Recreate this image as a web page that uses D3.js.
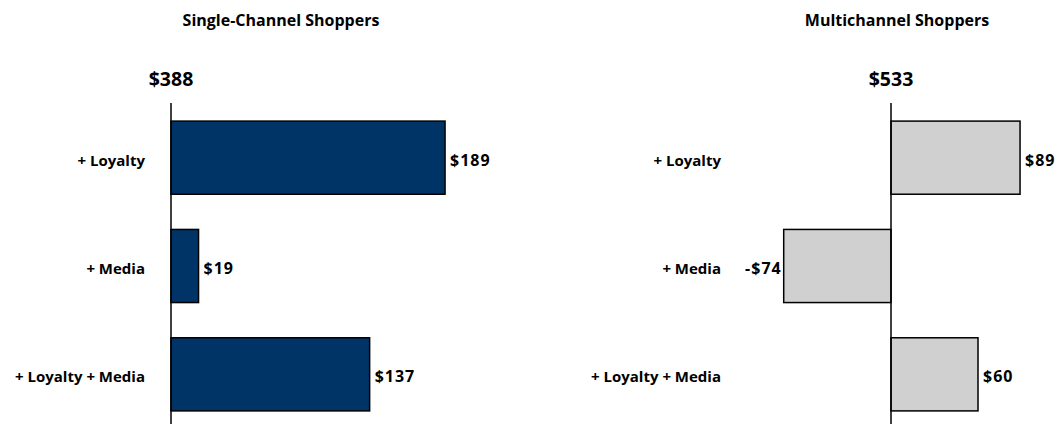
<!DOCTYPE html>
<html>
<head>
<meta charset="utf-8">
<script src="https://cdn.jsdelivr.net/npm/d3@7"></script>
<style>
  body { margin: 0; background: #fff; }
  text { font-family: "Open Sans", Lato, sans-serif; font-weight: bold; fill: #000; }
</style>
</head>
<body>
<script>
// data
var categories = ["+ Loyalty", "+ Media", "+ Loyalty + Media"];
var singleValues = [189, 19, 137];
var multiValues = [89, -74, 60];
var singleBase = "$388";
var multiBase = "$533";
var panelTitles = ["Single-Channel Shoppers", "Multichannel Shoppers"];

var width = 1055, height = 424;
var svg = d3.select("body").append("svg")
    .attr("width", width)
    .attr("height", height);

var pxPerUnit = 1.45;

// one panel per shopper group
function drawPanel(title, base, values, axisX, labelRight, titleX, fill) {
    var x = d3.scaleLinear()
        .domain([0, 100])
        .range([axisX, axisX + 100 * pxPerUnit]);

    var y = d3.scaleBand()
        .domain(categories)
        .range([103.5, 428.5])
        .paddingInner(0.325)
        .paddingOuter(0.1625);

    var g = svg.append("g");

    g.append("text")
        .attr("x", titleX)
        .attr("y", 26)
        .attr("text-anchor", "middle")
        .style("font-size", "16px")
        .text(title);

    g.append("text")
        .attr("x", x(0))
        .attr("y", 86)
        .attr("text-anchor", "middle")
        .style("font-size", "19.5px")
        .text(base);

    g.selectAll("rect").data(values).enter().append("rect")
        .attr("x", function (d) { return Math.min(x(0), x(d)); })
        .attr("y", function (d, i) { return y(categories[i]); })
        .attr("width", function (d) { return Math.abs(x(d) - x(0)); })
        .attr("height", y.bandwidth())
        .attr("fill", fill)
        .attr("stroke", "#000")
        .attr("stroke-width", 1.5);

    // baseline
    g.append("line")
        .attr("x1", x(0)).attr("x2", x(0))
        .attr("y1", 103).attr("y2", height)
        .attr("stroke", "#000")
        .attr("stroke-width", 1.5);

    g.selectAll(".cat").data(categories).enter().append("text")
        .attr("class", "cat")
        .attr("x", labelRight)
        .attr("y", function (d) { return y(d) + y.bandwidth() / 2 + 8; })
        .attr("text-anchor", "end")
        .style("font-size", "15px")
        .text(function (d) { return d; });

    g.selectAll(".val").data(values).enter().append("text")
        .attr("class", "val")
        .attr("x", function (d) { return d < 0 ? x(d) - 2 : x(d) + 5; })
        .attr("y", function (d, i) { return y(categories[i]) + y.bandwidth() / 2 + 8; })
        .attr("text-anchor", function (d) { return d < 0 ? "end" : "start"; })
        .style("font-size", "16px")
        .style("letter-spacing", "1px")
        .text(function (d) { return (d < 0 ? "-$" : "$") + Math.abs(d); });
}

drawPanel(panelTitles[0], singleBase, singleValues, 171, 145, 281, "#003366");
drawPanel(panelTitles[1], multiBase, multiValues, 891, 721, 897, "#d0d0d0");
</script>
</body>
</html>
